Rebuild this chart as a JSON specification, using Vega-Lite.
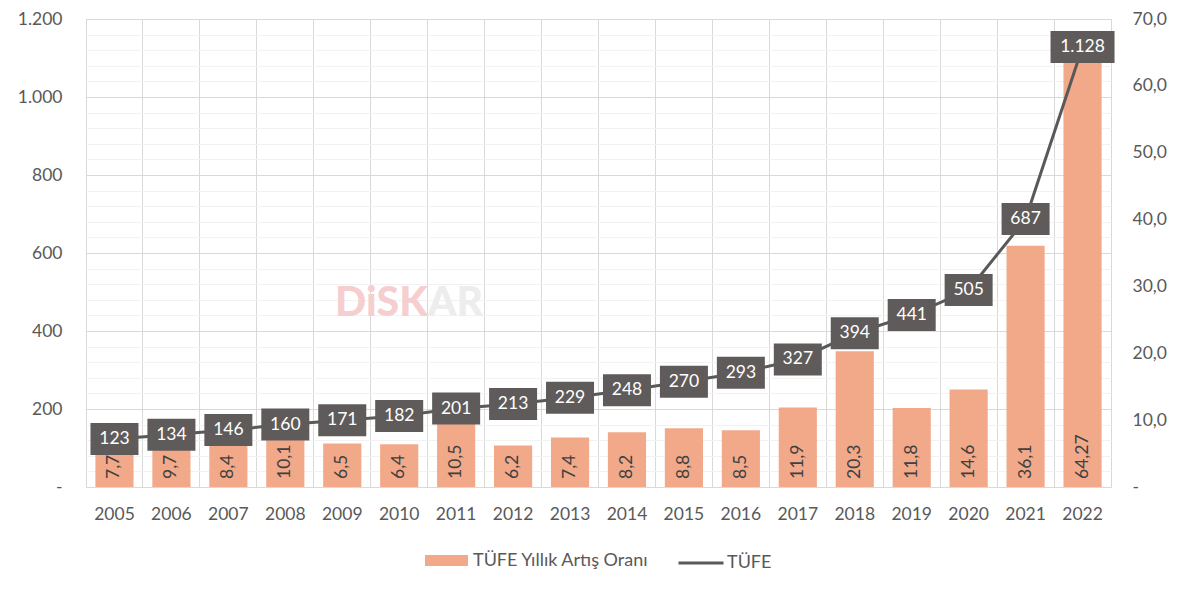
{
  "$schema": "https://vega.github.io/schema/vega-lite/v6.json",
  "width": 1025,
  "height": 468,
  "autosize": "none",
  "padding": {"left": 86, "top": 19, "right": 66, "bottom": 102},
  "background": "white",
  "data": {
    "values": [
      {"year": "2005", "tufe": 123, "rate": 7.7},
      {"year": "2006", "tufe": 134, "rate": 9.7},
      {"year": "2007", "tufe": 146, "rate": 8.4},
      {"year": "2008", "tufe": 160, "rate": 10.1},
      {"year": "2009", "tufe": 171, "rate": 6.5},
      {"year": "2010", "tufe": 182, "rate": 6.4},
      {"year": "2011", "tufe": 201, "rate": 10.5},
      {"year": "2012", "tufe": 213, "rate": 6.2},
      {"year": "2013", "tufe": 229, "rate": 7.4},
      {"year": "2014", "tufe": 248, "rate": 8.2},
      {"year": "2015", "tufe": 270, "rate": 8.8},
      {"year": "2016", "tufe": 293, "rate": 8.5},
      {"year": "2017", "tufe": 327, "rate": 11.9},
      {"year": "2018", "tufe": 394, "rate": 20.3},
      {"year": "2019", "tufe": 441, "rate": 11.8},
      {"year": "2020", "tufe": 505, "rate": 14.6},
      {"year": "2021", "tufe": 687, "rate": 36.1},
      {"year": "2022", "tufe": 1128, "rate": 64.27}
    ]
  },
  "encoding": {
    "x": {
      "field": "year",
      "type": "ordinal",
      "scale": {"paddingInner": 0, "paddingOuter": 0},
      "axis": {
        "title": null,
        "bandPosition": 0,
        "labelAngle": 0,
        "grid": true,
        "gridColor": "#d9d9d9",
        "ticks": false,
        "domainColor": "#d9d9d9",
        "labelFontSize": 17.5,
        "labelColor": "#595959",
        "labelPadding": 18
      }
    }
  },
  "layer": [
    {
      "encoding": {
        "y": {
          "field": "rate",
          "type": "quantitative",
          "scale": {"domain": [0, 70], "nice": false},
          "axis": {
            "orient": "right",
            "title": null,
            "values": [0, 10, 20, 30, 40, 50, 60, 70],
            "format": ".1f",
            "labelExpr": "datum.value === 0 ? '-' : datum.label",
            "grid": false,
            "ticks": false,
            "domain": false,
            "labelFontSize": 17.5,
            "labelColor": "#595959",
            "labelPadding": 21,
            "labelAlign": "left"
          }
        }
      },
      "layer": [
        {
          "mark": {"type": "bar", "width": {"band": 0.67}, "color": "#F1A98A"},
          "encoding": {
            "fill": {
              "datum": "TÜFE Yıllık Artış Oranı",
              "type": "nominal",
              "scale": {"range": ["#F1A98A"]},
              "legend": {
                "orient": "bottom",
                "title": null,
                "symbolType": "M-1,-0.256H1V0.256H-1Z",
                "symbolSize": 1849,
                "symbolStrokeWidth": 0,
                "symbolOpacity": 1,
                "labelFontSize": 18,
                "labelLimit": 400,
                "labelColor": "#595959",
                "labelOffset": 5,
                "offset": 16
              }
            }
          }
        },
        {
          "mark": {"type": "text", "angle": 270, "align": "left", "baseline": "middle", "yOffset": -8, "fontSize": 17.5, "color": "#404040"},
          "encoding": {
            "y": {"datum": 0, "type": "quantitative"},
            "text": {"field": "rate", "type": "quantitative", "format": ".2~f"}
          }
        }
      ]
    },
    {
      "encoding": {
        "y": {
          "field": "tufe",
          "type": "quantitative",
          "scale": {"domain": [0, 1200], "nice": false},
          "axis": {
            "orient": "left",
            "title": null,
            "values": [0, 40, 80, 120, 160, 200, 240, 280, 320, 360, 400, 440, 480, 520, 560, 600, 640, 680, 720, 760, 800, 840, 880, 920, 960, 1000, 1040, 1080, 1120, 1160, 1200],
            "format": ",d",
            "labelExpr": "datum.value === 0 ? '-' : (datum.value % 200 === 0 ? datum.label : '')",
            "labelOverlap": false,
            "grid": true,
            "gridColor": {"condition": {"test": "datum.value % 200 === 0", "value": "#d9d9d9"}, "value": "#f2f2f2"},
            "ticks": false,
            "domain": false,
            "labelFontSize": 17.5,
            "labelColor": "#595959",
            "labelPadding": 24
          }
        }
      },
      "layer": [
        {
          "transform": [{"filter": "datum.year === '2011'"}],
          "mark": {"type": "text", "align": "right", "baseline": "middle", "fontSize": 41, "fontWeight": 900, "color": "#F5CFCF"},
          "encoding": {
            "x": {"field": "year", "type": "ordinal", "bandPosition": 0},
            "y": {"datum": 470, "type": "quantitative"},
            "text": {"value": "DiSK"}
          }
        },
        {
          "transform": [{"filter": "datum.year === '2011'"}],
          "mark": {"type": "text", "align": "left", "baseline": "middle", "fontSize": 41, "fontWeight": 900, "color": "#EDEDED"},
          "encoding": {
            "x": {"field": "year", "type": "ordinal", "bandPosition": 0},
            "y": {"datum": 470, "type": "quantitative"},
            "text": {"value": "AR"}
          }
        },
        {
          "mark": {"type": "line", "strokeWidth": 3},
          "encoding": {
            "stroke": {
              "datum": "TÜFE",
              "type": "nominal",
              "scale": {"range": ["#595959"]},
              "legend": {
                "orient": "bottom",
                "title": null,
                "symbolType": "stroke",
                "symbolSize": 2025,
                "symbolStrokeWidth": 3,
                "labelFontSize": 18,
                "labelColor": "#595959",
                "labelOffset": 2,
                "offset": 16
              }
            }
          }
        },
        {
          "mark": {"type": "point", "filled": true, "opacity": 1, "size": 1024, "color": "#5F5B5A", "strokeWidth": 0},
          "encoding": {
            "shape": {"condition": {"test": "datum.tufe > 1000", "value": "M-2,-1H2V1H-2Z"}, "value": "M-1.5,-1H1.5V1H-1.5Z"}
          }
        },
        {
          "mark": {"type": "text", "color": "white", "fontSize": 17.5, "baseline": "middle", "align": "center"},
          "encoding": {
            "text": {"field": "tufe", "type": "quantitative", "format": ",d"}
          }
        }
      ]
    }
  ],
  "resolve": {"scale": {"y": "independent"}},
  "config": {
    "font": "Lato",
    "locale": {"number": {"decimal": ",", "thousands": ".", "grouping": [3], "currency": ["", " TL"]}},
    "view": {"stroke": "#d9d9d9"},
    "legend": {"layout": {"bottom": {"anchor": "middle", "direction": "horizontal", "margin": 28}}}
  }
}
